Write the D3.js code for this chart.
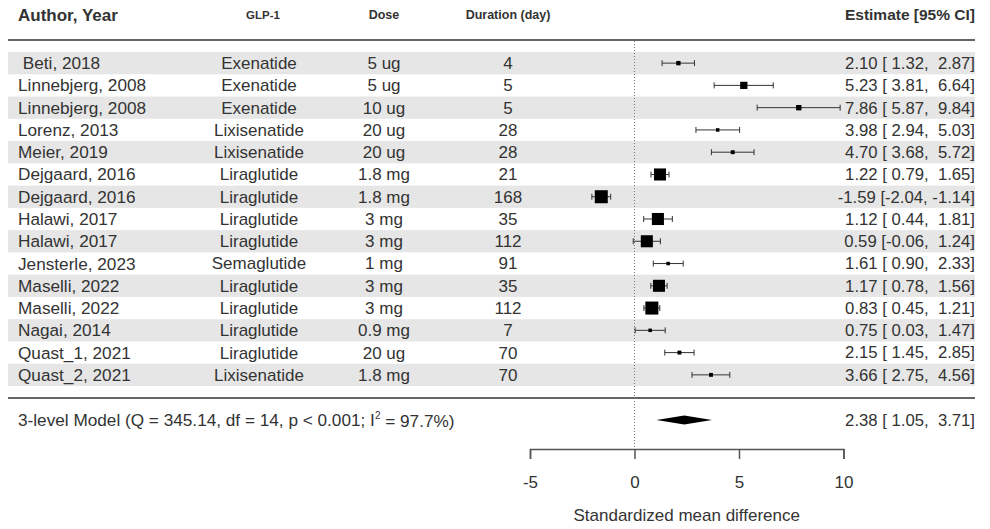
<!DOCTYPE html>
<html>
<head>
<meta charset="utf-8">
<script src="https://cdn.jsdelivr.net/npm/d3@7"></script>
<style>
  body { margin: 0; background: #fff; }
  text { font-family: "Liberation Sans", Arial, sans-serif; fill: #333; white-space: pre; }
</style>
</head>
<body>
<div id="chart"></div>
<script>
// study rows
var authors = [" Beti, 2018", "Linnebjerg, 2008", "Linnebjerg, 2008", "Lorenz, 2013", "Meier, 2019",
  "Dejgaard, 2016", "Dejgaard, 2016", "Halawi, 2017", "Halawi, 2017", "Jensterle, 2023",
  "Maselli, 2022", "Maselli, 2022", "Nagai, 2014", "Quast_1, 2021", "Quast_2, 2021"];
var glp1 = ["Exenatide", "Exenatide", "Exenatide", "Lixisenatide", "Lixisenatide",
  "Liraglutide", "Liraglutide", "Liraglutide", "Liraglutide", "Semaglutide",
  "Liraglutide", "Liraglutide", "Liraglutide", "Liraglutide", "Lixisenatide"];
var doses = ["5 ug", "5 ug", "10 ug", "20 ug", "20 ug", "1.8 mg", "1.8 mg", "3 mg", "3 mg", "1 mg",
  "3 mg", "3 mg", "0.9 mg", "20 ug", "1.8 mg"];
var durations = [4, 5, 5, 28, 28, 21, 168, 35, 112, 91, 35, 112, 7, 70, 70];
var estimates = [2.10, 5.23, 7.86, 3.98, 4.70, 1.22, -1.59, 1.12, 0.59, 1.61, 1.17, 0.83, 0.75, 2.15, 3.66];
var lowers = [1.32, 3.81, 5.87, 2.94, 3.68, 0.79, -2.04, 0.44, -0.06, 0.90, 0.78, 0.45, 0.03, 1.45, 2.75];
var uppers = [2.87, 6.64, 9.84, 5.03, 5.72, 1.65, -1.14, 1.81, 1.24, 2.33, 1.56, 1.21, 1.47, 2.85, 4.56];
// weights (%)
var weights = [3.6, 6.4, 4.6, 2.8, 3.2, 11.0, 11.9, 11.0, 11.0, 2.8, 11.0, 11.9, 2.8, 3.2, 3.2];

// pooled model
var pooled = { est: 2.38, lo: 1.05, hi: 3.71 };
var modelLabel = "3-level Model (Q = 345.14, df = 14, p < 0.001; I";
var modelLabelEnd = " = 97.7%)";

var xTicks = [-5, 0, 5, 10];
var headers = ["Author, Year", "GLP-1", "Dose", "Duration (day)", "Estimate [95% CI]"];

var width = 990, height = 529;
var svg = d3.select("#chart").append("svg")
  .attr("width", width)
  .attr("height", height);

var x = d3.scaleLinear().domain([-5, 10]).range([530, 843.5]);
var y = d3.scaleBand().domain(d3.range(authors.length)).range([52, 386]).padding(0);
var size = d3.scaleLinear().domain([2.8, 11.9]).range([3.5, 13]);

var left = 8, right = 975;
var rows = d3.range(authors.length);

var locale = d3.formatLocale({ decimal: ".", thousands: ",", grouping: [3], currency: ["", ""], minus: "-" });
var fmt = locale.format(".2f");

// shaded bands
svg.selectAll("rect.band")
  .data(rows.filter(function(i) { return i % 2 === 0; }))
  .enter().append("rect")
  .attr("class", "band")
  .attr("x", left)
  .attr("y", function(i) { return y(i); })
  .attr("width", right - left)
  .attr("height", y.bandwidth())
  .attr("fill", "#e6e6e6");

// header + separator lines
[40, 398].forEach(function(ly) {
  svg.append("line")
    .attr("x1", left).attr("x2", right)
    .attr("y1", ly).attr("y2", ly)
    .attr("stroke", "#666").attr("stroke-width", 2);
});

// reference line at 0
svg.append("line")
  .attr("x1", x(0)).attr("x2", x(0))
  .attr("y1", 41).attr("y2", 449)
  .attr("stroke", "#777")
  .attr("stroke-width", 1)
  .attr("stroke-dasharray", "1,2");

// headers
var headerX = [18, 263, 384, 508, 975];
var headerAnchor = ["start", "middle", "middle", "middle", "end"];
var headerSize = [17, 11.5, 12.5, 12.5, 15.5];
svg.selectAll("text.header")
  .data(headers)
  .enter().append("text")
  .attr("class", "header")
  .attr("x", function(d, i) { return headerX[i]; })
  .attr("y", 15)
  .attr("dy", "0.35em")
  .attr("text-anchor", function(d, i) { return headerAnchor[i]; })
  .attr("font-size", function(d, i) { return headerSize[i]; })
  .attr("font-weight", "bold")
  .text(function(d) { return d; });

function pad(v) {
  var s = fmt(v);
  while (s.length < 5) s = " " + s;
  return s;
}
function ciText(e, lo, hi) {
  return fmt(e) + " [" + pad(lo) + ", " + pad(hi) + "]";
}

function column(cls, values, cx, anchor, fs) {
  svg.selectAll("text." + cls)
    .data(values)
    .enter().append("text")
    .attr("class", cls)
    .attr("x", cx)
    .attr("y", function(d, i) { return y(i) + y.bandwidth() / 2; })
    .attr("dy", "0.35em")
    .attr("text-anchor", anchor)
    .attr("font-size", fs)
    .text(function(d) { return d; });
}
column("author", authors, 18, "start", 17.2);
column("glp", glp1, 259, "middle", 17);
column("dose", doses, 384, "middle", 17);
column("dur", durations, 508, "middle", 17);
column("ci", rows.map(function(i) { return ciText(estimates[i], lowers[i], uppers[i]); }), 975, "end", 16.7);

// CI whiskers
var study = svg.selectAll("g.study")
  .data(rows)
  .enter().append("g")
  .attr("class", "study")
  .attr("transform", function(i) { return "translate(0," + (y(i) + y.bandwidth() / 2) + ")"; });

study.append("line")
  .attr("x1", function(i) { return x(lowers[i]); })
  .attr("x2", function(i) { return x(uppers[i]); })
  .attr("stroke", "#333").attr("stroke-width", 1);
study.append("line")
  .attr("x1", function(i) { return x(lowers[i]); })
  .attr("x2", function(i) { return x(lowers[i]); })
  .attr("y1", -3).attr("y2", 3)
  .attr("stroke", "#333").attr("stroke-width", 1);
study.append("line")
  .attr("x1", function(i) { return x(uppers[i]); })
  .attr("x2", function(i) { return x(uppers[i]); })
  .attr("y1", -3).attr("y2", 3)
  .attr("stroke", "#333").attr("stroke-width", 1);
study.append("rect")
  .attr("x", function(i) { return x(estimates[i]) - size(weights[i]) / 2; })
  .attr("y", function(i) { return -size(weights[i]) / 2; })
  .attr("width", function(i) { return size(weights[i]); })
  .attr("height", function(i) { return size(weights[i]); })
  .attr("fill", "#000");

// pooled row
var sy = 420;
var modelText = svg.append("text")
  .attr("x", 18).attr("y", sy).attr("dy", "0.35em")
  .attr("font-size", 17.2);
modelText.append("tspan").text(modelLabel);
modelText.append("tspan").attr("font-size", 10).attr("dy", "-0.7em").text("2");
modelText.append("tspan").attr("dy", "0.45em").text(modelLabelEnd);

svg.append("path")
  .attr("d", "M" + x(pooled.lo) + "," + sy +
    "L" + x(pooled.est) + "," + (sy - 4.5) +
    "L" + x(pooled.hi) + "," + sy +
    "L" + x(pooled.est) + "," + (sy + 4.5) + "Z")
  .attr("fill", "#000");

svg.append("text")
  .attr("x", 975).attr("y", sy).attr("dy", "0.35em")
  .attr("text-anchor", "end")
  .attr("font-size", 16.7)
  .text(ciText(pooled.est, pooled.lo, pooled.hi));

// axis
var axis = svg.append("g")
  .attr("transform", "translate(0,449)")
  .call(d3.axisBottom(x).tickValues(xTicks).tickSize(10).tickPadding(17).tickFormat(locale.format("d")));
axis.select(".domain").attr("stroke", "#555").attr("stroke-width", 1.5);
axis.selectAll(".tick line").attr("stroke", "#555").attr("stroke-width", 1.5);
axis.selectAll(".tick text")
  .attr("font-size", 17)
  .attr("font-family", "Liberation Sans, Arial, sans-serif")
  .attr("fill", "#333");

svg.append("text")
  .attr("x", (x(-5) + x(10)) / 2)
  .attr("y", 515)
  .attr("dy", "0.35em")
  .attr("text-anchor", "middle")
  .attr("font-size", 17)
  .text("Standardized mean difference");
</script>
</body>
</html>
